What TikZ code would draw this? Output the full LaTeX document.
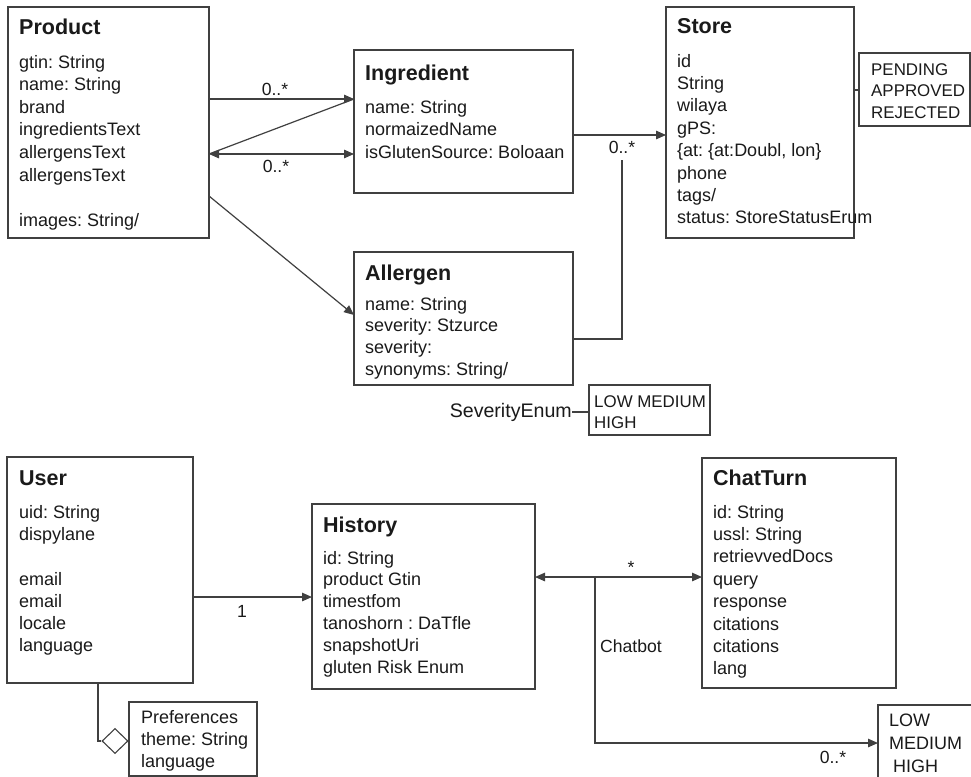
\documentclass[tikz,border=0pt]{standalone}
\usepackage{fontspec}
\setmainfont{Liberation Sans}
\usetikzlibrary{arrows.meta,shapes.geometric}

\definecolor{ink}{HTML}{1A1A1A}
\definecolor{edge}{HTML}{404040}

\tikzset{
  box/.style={draw=edge, line width=1.3pt, fill=white, anchor=north west,
    inner sep=0pt, outer sep=0pt},
  title/.style={anchor=base west, inner sep=0pt, text=ink,
    font=\fontsize{21.5}{24}\selectfont\bfseries},
  attr/.style={anchor=base west, inner sep=0pt, text=ink,
    font=\fontsize{18}{21}\selectfont},
  enum/.style={attr, font=\fontsize{16.9}{20}\selectfont},
  lbl/.style={anchor=base, inner sep=0pt, text=ink,
    font=\fontsize{17.6}{21}\selectfont},
  link/.style={draw=edge, line width=1.2pt},
  arr/.style={link, -{Triangle[length=10pt,width=8.5pt]}},
  darr/.style={link, {Triangle[length=10pt,width=8.5pt]}-{Triangle[length=10pt,width=8.5pt]}},
}

\begin{document}
\frenchspacing
\begin{tikzpicture}[x=1pt, y=-1pt]
\fill[white] (0,0) rectangle (971,776);
\useasboundingbox (0,0) rectangle (971,776);

% ---------- Product ----------
\node[box, minimum width=201, minimum height=231] (product) at (8,7) {};
\node[title] (product-t) at (19,35) {Product};
\foreach \t [count=\i] in {gtin: String, name: String, brand, ingredientsText, allergensText, allergensText}
  \node[attr] (product-\i) at (19,{68+(\i-1)*22.6}) {\t};
\node[attr] (product-img) at (19,226) {images: String/};

% ---------- Ingredient ----------
\node[box, minimum width=219, minimum height=143] (ingredient) at (354,50) {};
\node[title] (ingredient-t) at (365,80) {Ingredient};
\foreach \t [count=\i] in {name: String, normaizedName, isGlutenSource: Boloaan}
  \node[attr] (ingredient-\i) at (365,{113+(\i-1)*22.5}) {\t};

% ---------- Store ----------
\node[box, minimum width=188, minimum height=231] (store) at (666,7) {};
\node[title] (store-t) at (677,34) {Store};
\foreach \t [count=\i] in {id, String, wilaya, gPS:, {\{at: \{at:Doubl, lon\}}, phone, tags/, status: StoreStatusErum}
  \node[attr] (store-\i) at (677,{67+(\i-1)*22.4}) {\t};

\node[box, minimum width=111, minimum height=73] (statusenum) at (859,53) {};
\foreach \t [count=\i] in {PENDING, APPROVED, REJECTED}
  \node[enum] (statusenum-\i) at (871,{75+(\i-1)*21.8}) {\t};

% ---------- Allergen ----------
\node[box, minimum width=219, minimum height=133] (allergen) at (354,252) {};
\node[title] (allergen-t) at (365,280) {Allergen};
\foreach \t [count=\i] in {name: String, severity: Stzurce, severity:, synonyms: String/}
  \node[attr] (allergen-\i) at (365,{310+(\i-1)*21.8}) {\t};

\node[anchor=base east, inner sep=0pt, text=ink, font=\fontsize{19.6}{22}\selectfont]
  (sevname) at (572,417) {SeverityEnum};
\node[box, minimum width=121, minimum height=50] (sevbox) at (589,385) {};
\node[enum] (sevbox-1) at (594,407) {LOW MEDIUM};
\node[enum] (sevbox-2) at (594,428.5) {HIGH};

% ---------- User ----------
\node[box, minimum width=186, minimum height=226] (user) at (7,457) {};
\node[title] (user-t) at (19,485) {User};
\foreach \t [count=\i] in {uid: String, dispylane}
  \node[attr] (user-a\i) at (19,{518+(\i-1)*22.2}) {\t};
\foreach \t [count=\i] in {email, email, locale, language}
  \node[attr] (user-b\i) at (19,{585+(\i-1)*22}) {\t};

\node[box, minimum width=128, minimum height=74] (prefs) at (129,702) {};
\foreach \t [count=\i] in {Preferences, theme: String, language}
  \node[attr] (prefs-\i) at (141,{723+(\i-1)*22}) {\t};
\node[draw=edge, fill=white, diamond, line width=1.1pt, inner sep=0pt,
  minimum width=26, minimum height=25] (agg) at (115,741) {};

% ---------- History ----------
\node[box, minimum width=223, minimum height=185] (history) at (312,504) {};
\node[title] (history-t) at (323,532) {History};
\foreach \t [count=\i] in {id: String, product Gtin, timestfom, tanoshorn : DaTfle, snapshotUri, gluten Risk Enum}
  \node[attr] (history-\i) at (323,{564+(\i-1)*21.9}) {\t};

% ---------- ChatTurn ----------
\node[box, minimum width=194, minimum height=230] (chatturn) at (702,458) {};
\node[title] (chatturn-t) at (713,485) {ChatTurn};
\foreach \t [count=\i] in {id: String, ussl: String, retrievvedDocs, query, response, citations, citations, lang}
  \node[attr] (chatturn-\i) at (713,{518+(\i-1)*22.4}) {\t};

\node[box, minimum width=100, minimum height=80] (riskenum) at (878,705) {};
\node[attr] (riskenum-1) at (889,726) {LOW};
\node[attr] (riskenum-2) at (889,749) {MEDIUM};
\node[attr] (riskenum-3) at (893,772) {HIGH};

% ---------- connectors ----------
\draw[arr] (product.east |- 0,99) -- (ingredient.west |- 0,99);
\draw[link] (ingredient.west |- 0,99) -- (product.east |- 0,154);
\draw[darr] (product.east |- 0,154) -- (ingredient.west |- 0,154);
\draw[arr] (product.east |- 0,196) -- (allergen.west |- 0,315);
\node[lbl] (m-pi1) at (275,95) {0..*};
\node[lbl] (m-pi2) at (276,172) {0..*};

\draw[arr] (ingredient.east |- 0,135) -- (store.west |- 0,135);
\coordinate (alknee) at (622,160);
\draw[link] (allergen.east |- 0,339) -| (alknee);
\node[lbl] (m-is) at (622,153) {0..*};
\draw[link] (store.east |- 0,90) -- (statusenum.west |- 0,90);
\draw[link] (sevname.east |- 0,412) -- (sevbox.west |- 0,412);

\draw[arr] (user.east |- 0,597) -- (history.west |- 0,597);
\node[lbl] (m-uh) at (242,617) {1};
\draw[link] (user.south -| 98,0) |- (agg.west);

\draw[darr] (history.east |- 0,577) -- (chatturn.west |- 0,577);
\node[lbl] (m-hc) at (631,573) {*};
\coordinate (split) at (595,577);
\draw[arr] (split) |- (riskenum.west |- 0,743);
\node[lbl] (m-chat) at (631,652) {Chatbot};
\node[lbl] (m-risk) at (833,763) {0..*};
\end{tikzpicture}
\end{document}
